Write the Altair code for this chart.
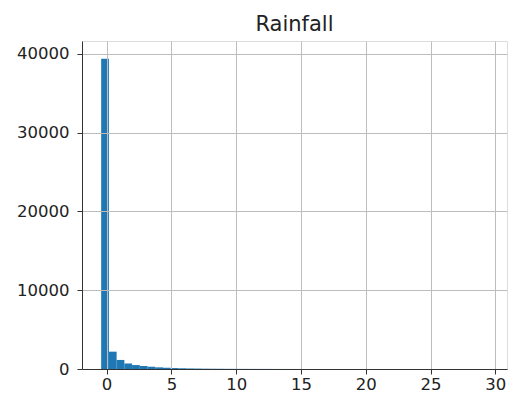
import altair as alt
import numpy as np
import pandas as pd

# Rainfall histogram: 50 equal-width bins between the observed minimum and maximum
rain_min = -0.42
rain_max = 29.4
n_bins = 50

counts = [
    39400, 2200, 1150, 700, 500, 380, 290, 210, 160, 120,
    90, 70, 55, 42, 34, 27, 21, 17, 14, 11,
    9, 8, 6, 5, 4, 4, 3, 3, 2, 2,
    2, 1, 1, 1, 1, 1, 1, 0, 1, 0,
    0, 1, 0, 0, 0, 0, 0, 0, 0, 1,
]

x_ticks = [0, 5, 10, 15, 20, 25, 30]
y_ticks = [0, 10000, 20000, 30000, 40000]

edges = np.linspace(rain_min, rain_max, n_bins + 1)
df = pd.DataFrame({"start": edges[:-1], "end": edges[1:], "count": counts})

font = "DejaVu Sans"

bars = alt.Chart(df).mark_bar(color="#1f77b4").encode(
    x=alt.X(
        "start:Q",
        scale=alt.Scale(domain=[-1.9, 30.9], nice=False, zero=False),
        axis=alt.Axis(
            values=x_ticks, title=None, grid=True, gridColor="#bdbdbd", gridWidth=1,
            tickSize=5, tickColor="#333", domainColor="#333", labelPadding=2,
            labelFont=font, labelFontSize=16.5, labelColor="#222", zindex=1,
        ),
    ),
    x2="end:Q",
    y=alt.Y(
        "count:Q",
        scale=alt.Scale(domain=[0, 41650], nice=False),
        axis=alt.Axis(
            values=y_ticks, title=None, grid=True, gridColor="#bdbdbd", gridWidth=1,
            format="d", tickSize=5, tickColor="#333", domainColor="#333", labelPadding=8,
            labelFont=font, labelFontSize=16.5, labelColor="#222", zindex=1,
        ),
    ),
    y2=alt.datum(0),
)

chart = bars.properties(
    width=425,
    height=328,
    title=alt.TitleParams(
        "Rainfall", font=font, fontSize=21, fontWeight="normal", color="#222",
        anchor="middle", offset=6,
    ),
    autosize=alt.AutoSizeParams(type="none"),
    padding={"left": 82, "top": 41, "right": 3, "bottom": 36},
).configure_view(stroke="#333", strokeWidth=1).configure(background="white")

chart.save("out.html", embed_options={"renderer": "svg", "actions": False})
